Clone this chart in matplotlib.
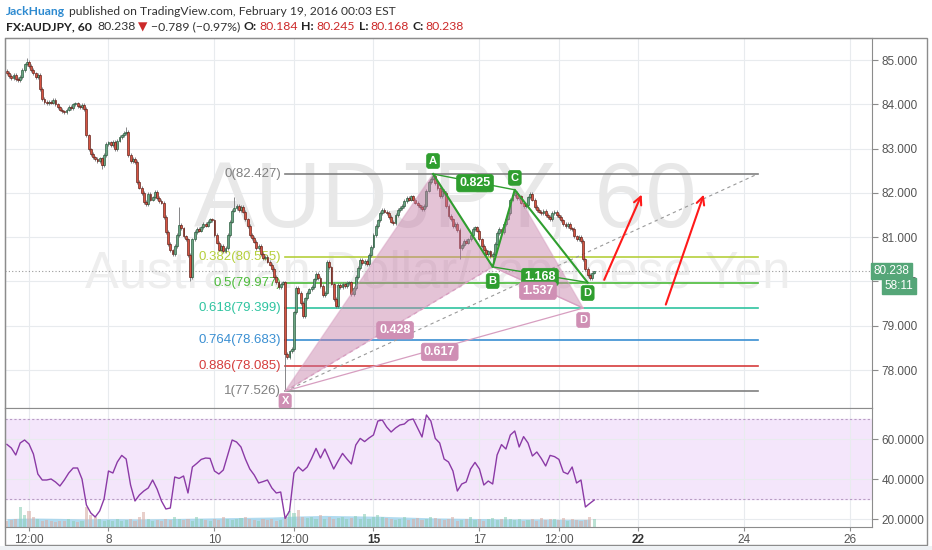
import numpy as np
import matplotlib
matplotlib.use("Agg")
import matplotlib.pyplot as plt
from matplotlib.transforms import IdentityTransform, blended_transform_factory
from matplotlib.patches import Polygon, Rectangle

# ---- data (x = trading hours counted from Feb 4 12:00, weekends skipped) ----
hours = np.arange(-10, 257)
open_first = 84.75
closes = [84.71, 84.64, 84.60, 84.66, 84.57, 84.55, 84.62, 84.78, 84.90, 84.95,
          84.86, 84.78, 84.70, 84.62, 84.66, 84.35, 84.12, 84.05, 84.02, 84.06,
          84.04, 84.10, 84.00, 83.93, 83.88, 83.84, 83.82, 83.88, 83.95, 83.92,
          84.00, 84.02, 83.96, 83.94, 83.98, 83.90, 83.30, 82.98, 82.88, 82.80,
          82.76, 82.72, 82.78, 82.62, 82.85, 83.10, 83.14, 83.08, 83.15, 82.98,
          83.18, 83.26, 83.30, 83.35, 83.38, 82.85, 82.72, 82.76, 82.70, 82.25,
          82.12, 82.00, 81.80, 81.75, 81.98, 81.85, 81.90, 82.02, 81.88, 81.82,
          81.78, 81.45, 81.12, 80.85, 80.70, 80.62, 80.80, 81.05, 81.27, 81.20,
          81.02, 80.95, 80.60, 80.10, 80.95, 81.12, 81.18, 81.15, 81.22, 81.30,
          81.26, 81.35, 81.40, 81.38, 81.05, 80.88, 80.72, 80.80, 80.68, 80.75,
          81.05, 81.35, 81.60, 81.66, 81.70, 81.62, 81.68, 81.58, 81.40, 81.25,
          81.05, 80.98, 80.90, 80.75, 80.80, 80.62, 80.52, 80.56, 80.45, 80.38,
          80.28, 80.10, 79.98, 79.88, 79.95, 79.98, 78.36, 78.30, 78.42, 78.48,
          79.30, 79.85, 79.75, 79.52, 79.22, 79.62, 79.75, 79.82, 79.88, 80.05,
          80.18, 80.08, 79.90, 79.70, 79.75, 80.45, 80.32, 79.95, 79.60, 79.45,
          79.92, 79.88, 79.95, 79.90, 79.96, 79.98, 79.72, 79.85, 80.10, 80.30,
          80.48, 80.42, 80.46, 80.40, 80.60, 80.78, 81.05, 81.25, 81.38, 81.55,
          81.62, 81.58, 81.55, 81.45, 81.35, 81.32, 81.50, 81.62, 81.66, 81.70,
          81.82, 81.88, 81.85, 81.92, 81.85, 81.78, 81.72, 81.68, 81.64, 81.70,
          82.05, 82.25, 82.32, 82.38, 82.22, 82.10, 81.92, 82.05, 82.00, 81.70,
          81.48, 81.40, 81.25, 81.30, 81.16, 80.75, 80.82, 80.92, 80.88, 80.95,
          81.05, 81.18, 81.22, 81.15, 80.95, 80.80, 80.72, 80.62, 80.68, 80.58,
          80.62, 80.85, 81.10, 81.18, 81.12, 81.30, 81.42, 81.55, 81.85, 81.95,
          82.00, 81.88, 81.92, 81.78, 81.70, 81.72, 81.90, 81.98, 81.85, 81.68,
          81.62, 81.58, 81.55, 81.60, 81.50, 81.45, 81.40, 81.55, 81.58, 81.50,
          81.46, 81.38, 81.30, 81.25, 81.30, 81.20, 81.18, 81.02, 80.95, 81.00,
          80.92, 80.50, 80.28, 80.15, 80.08, 80.184, 80.238]
spike_hi_h = [-1, 44, 68, 93, 183, 220, 256]
spike_hi_p = [85.05, 83.49, 81.68, 81.90, 82.427, 82.07, 80.245]
spike_lo_h = [33, 73, 116, 195, 210, 254, 256]
spike_lo_p = [82.55, 80.00, 77.526, 80.50, 80.33, 80.03, 80.168]

rsi_hours = np.arange(-10, 257, 2)
rsi_vals = [57.3, 55.5, 52.0, 58.0, 59.5,
            57.5, 52.5, 42.5, 39.5, 39.5, 40.0, 38.5, 36.5, 39.5, 43.0,
            45.5, 45.5, 40.0, 27.0, 23.0, 21.0, 24.0, 30.0, 44.0, 43.0,
            48.5, 51.8, 50.0, 37.0, 29.0, 32.0, 34.0, 35.5, 39.5, 35.0,
            29.0, 25.0, 25.5, 41.0, 40.3, 41.5, 33.0, 46.0, 47.8, 49.8,
            50.5, 50.3, 44.0, 42.5, 44.5, 52.0, 59.5, 58.5, 56.0, 50.0,
            45.0, 42.0, 38.0, 38.7, 39.5, 35.5, 33.0, 33.5, 20.3, 24.0,
            43.0, 46.0, 44.0, 46.0, 50.3, 55.3, 50.5, 55.0, 50.0, 45.0,
            49.0, 52.8, 50.0, 47.5, 57.0, 60.3, 58.7, 60.5, 62.0, 69.0,
            69.5, 66.0, 63.5, 65.5, 67.0, 67.5, 69.5, 70.0, 65.5, 61.0,
            72.0, 69.0, 60.3, 58.0, 50.0, 48.5, 44.0, 34.0, 37.5, 38.5,
            45.0, 48.3, 45.0, 37.0, 39.0, 37.5, 52.0, 57.2, 55.0, 62.0,
            64.0, 56.0, 61.2, 58.0, 51.5, 53.5, 50.3, 46.5, 51.8, 51.2,
            49.8, 43.5, 42.5, 46.0, 38.0, 39.5, 26.0, 27.8, 29.5]
vol_vals = [3, 3.5, 4, 10, 6,
            8, 5, 4, 3, 3.5, 3, 2.5, 3, 3, 4,
            3, 2.5, 3, 10, 6, 5, 4, 3, 3.5, 3,
            4, 3, 3.5, 4, 3, 5, 7.5, 4, 3, 3.5,
            3, 4, 3.5, 5, 4, 3.5, 4, 3, 5, 4,
            3.5, 3, 4, 3.5, 5, 4, 3.5, 4, 4.5, 5,
            4, 3.5, 3, 4, 3.5, 4, 3, 3.5, 5, 8,
            7, 8.5, 5, 4.5, 5, 4, 6, 4, 5, 4,
            4.5, 5, 4, 4.5, 5.5, 4, 6.5, 4, 5, 6,
            5, 4.5, 4, 3.5, 4, 5, 3.5, 4, 4.5, 3.5,
            4, 5, 4.5, 4, 3.5, 4, 5, 3, 3.5, 4,
            5, 3.5, 4, 3, 4, 4.5, 3.5, 4, 5, 4,
            3.5, 4, 3, 3.5, 4, 3, 4.5, 3.5, 4, 4,
            3.5, 4.5, 3, 4, 3.5, 3, 3.5, 5, 4]
volma_hours = np.arange(-10, 257, 12)
volma_vals = [4.2, 4.5, 4.3, 4.0, 4.2, 4.0, 4.2, 4.4, 4.6, 4.8, 5.0, 5.5,
              5.8, 5.6, 5.4, 5.0, 4.6, 4.4, 4.2, 4.0, 4.0, 3.8, 3.8]

tick_hours = [0, 36, 84, 120, 156, 204, 240, 276, 324, 372]
tick_labels = ["12:00", "8", "10", "12:00", "15", "17", "12:00", "22", "24", "26"]
bold_labels = ["15", "22"]

fib_ratios = ["0", "0.382", "0.5", "0.618", "0.764", "0.886", "1"]
fib_levels = [82.427, 80.555, 79.977, 79.399, 78.683, 78.085, 77.526]
fib_colors = ["#808080", "#b5cf3c", "#4cbb3a", "#2fc4a0", "#3a8fd2", "#d53c3c", "#808080"]
fib_x = [116, 330]

xabcd = {"X": (116, 77.526), "A": (183, 82.427), "B": (210, 80.33),
         "C": (220, 82.07), "D": (251, 79.40)}
abcd_d = (253, 79.977)
arrows = [((260, 79.98), (278, 82.02)), ((288, 79.42), (306, 82.02))]
last_price = 80.238

W, H = 932, 550
fig = plt.figure(figsize=(W / 100, H / 100), dpi=100)
plt.rcParams['font.family'] = ['Liberation Sans', 'DejaVu Sans']


def px_axes(l, t, r, b):
    return fig.add_axes([l / W, 1 - b / H, (r - l) / W, (b - t) / H])


ax = px_axes(5, 38, 872, 408)
ax2 = px_axes(5, 408, 872, 527)
xlim = (-10.87, 381.8)
grid_c = "#e8ebee"
spine_c = "#8c8c8c"

for a in (ax, ax2):
    a.set_xlim(*xlim)
    a.set_xticks(tick_hours)
    a.yaxis.tick_right()
    a.grid(True, color=grid_c, lw=0.8, zorder=0)
    a.set_axisbelow(True)
    for s in a.spines.values():
        s.set_color(spine_c)
    a.tick_params(axis='y', colors=spine_c, labelcolor="#555555", labelsize=8.5, length=4, pad=3)

# ---- main price panel ----
ax.set_ylim(77.144, 85.497)
ax.set_yticks([78, 79, 80, 81, 82, 83, 84, 85])
ax.set_yticklabels([f"{v:.3f}" for v in [78, 79, 80, 81, 82, 83, 84, 85]])
ax.tick_params(axis='x', length=0, labelbottom=False)

ax.text(0.5075, 0.489, "AUDJPY, 60", transform=ax.transAxes, ha='center', va='baseline',
        fontsize=66, color="#e8e8e8", zorder=0.6)
ax.text(0.4994, 0.324, "Australian Dollar/Japanese Yen", transform=ax.transAxes, ha='center',
        va='baseline', fontsize=36.5, color="#eeeeee", zorder=0.6)

# fib retracement
for r, lvl, col in zip(fib_ratios, fib_levels, fib_colors):
    ax.plot(fib_x, [lvl, lvl], color=col, lw=1.2, zorder=2)
    ax.text(fib_x[0] - 1.8, lvl, f"{r}({lvl:.3f})", color=col, fontsize=9.5,
            ha='right', va='center', zorder=2)
ax.plot(fib_x, [fib_levels[-1], fib_levels[0]], color="#999999", lw=0.8, ls=(0, (3, 3)), zorder=2)

ax.axhline(last_price, color="#9a9a9a", lw=0.8, ls=(0, (1, 2)), zorder=1.5)

# candles
c = np.array(closes)
o = np.concatenate([[open_first], c[:-1]])
hi = np.maximum(o, c) + 0.04
lo = np.minimum(o, c) - 0.04
for h, p in zip(spike_hi_h, spike_hi_p):
    hi[h + 10] = p
for h, p in zip(spike_lo_h, spike_lo_p):
    lo[h + 10] = p
up = c >= o
ax.vlines(hours, lo, hi, color="#737375", lw=0.6, zorder=3)
body = np.maximum(np.abs(c - o), 0.012)
ax.bar(hours[up], body[up], bottom=np.minimum(o, c)[up], width=0.85,
       color="#6ba583", edgecolor="#225437", lw=0.45, zorder=3.2)
ax.bar(hours[~up], body[~up], bottom=np.minimum(o, c)[~up], width=0.85,
       color="#d75442", edgecolor="#5b1a13", lw=0.45, zorder=3.2)

# XABCD pattern (pink) and ABCD (green)
X, A, B, C, D = (xabcd[k] for k in "XABCD")
pink_fc = "#c57ba6"
pink_ec = "#d79ec0"
ax.add_patch(Polygon([X, A, B], closed=True, fc=pink_fc, alpha=0.45, ec=pink_ec, lw=1, zorder=4))
ax.add_patch(Polygon([B, C, D], closed=True, fc=pink_fc, alpha=0.45, ec=pink_ec, lw=1, zorder=4))
ax.plot([X[0], B[0]], [X[1], B[1]], color=pink_ec, lw=0.9, ls=(0, (3, 3)), zorder=4.1)
ax.plot([X[0], D[0]], [X[1], D[1]], color=pink_ec, lw=0.9, zorder=4.1)
ax.plot([B[0], D[0]], [B[1], D[1]], color=pink_ec, lw=0.9, zorder=4.1)

green = "#2f9e2f"
ax.plot([A[0], B[0], C[0], abcd_d[0]], [A[1], B[1], C[1], abcd_d[1]], color=green, lw=1.5, zorder=5)
ax.plot([A[0], C[0]], [A[1], C[1]], color=green, lw=1.0, zorder=5)
ax.plot([B[0], abcd_d[0]], [B[1], abcd_d[1]], color=green, lw=1.0, zorder=5)


def tag(x, y, s, fc, size=8):
    ax.text(x, y, s, color="white", fontsize=size, fontweight='bold', ha='center', va='center',
            zorder=6, bbox=dict(boxstyle="round,pad=0.22", fc=fc, ec=fc, lw=0.5))


pink_box = "#cf8fb4"
tag(183, 82.72, "A", green)
tag(210, 80.01, "B", green)
tag(220, 82.34, "C", green)
tag(253, 79.74, "D", green)
tag(116, 77.30, "X", pink_box)
tag(251, 79.13, "D", pink_box)
tag(202, 82.22, "0.825", green, 9)
tag(231.4, 80.10, "1.168", green, 9)
tag(230.5, 79.79, "1.537", pink_box, 9)
tag(165.8, 78.90, "0.428", pink_box, 9)
tag(186, 78.41, "0.617", pink_box, 9)

for start, end in arrows:
    ax.annotate("", xy=end, xytext=start, zorder=6,
                arrowprops=dict(arrowstyle="->", color="#ff1a1a", lw=1.5, mutation_scale=14))

# price tags on the scale
bt = blended_transform_factory(ax.transAxes, ax.transData)
ax.text(1.002, last_price, "80.238", transform=bt, color="white", fontsize=8.5, ha='left',
        va='center', zorder=7, clip_on=False,
        bbox=dict(boxstyle="square,pad=0.2", fc="#55a678", ec="#55a678"))
ax.text(1.0145, 79.90, "58:11", transform=bt, color="white", fontsize=8.5, ha='left',
        va='center', zorder=7, clip_on=False,
        bbox=dict(boxstyle="square,pad=0.2", fc="#55a678", ec="#55a678"))

# ---- RSI panel ----
ax2.set_ylim(16, 75.5)
ax2.set_yticks([20, 40, 60])
ax2.set_yticklabels(["20.0000", "40.0000", "60.0000"])
ax2.axhspan(30, 70, color="#f4e6fb", zorder=0.3)
for lv in (30, 70):
    ax2.axhline(lv, color="#b89cc4", lw=0.8, ls=(0, (2, 2)), zorder=0.8)
ax2.fill_between(volma_hours, 16, 16 + np.array(volma_vals), color="#9ed3ec", alpha=0.8, lw=0, zorder=1)
vh = np.array(vol_vals)
vup = np.array([closes[h + 10] >= (closes[h + 9] if h > -10 else open_first) for h in rsi_hours])
ax2.bar(rsi_hours[vup], vh[vup], bottom=16, width=1.4, color="#8fcfb8", alpha=0.6, zorder=1.2)
ax2.bar(rsi_hours[~vup], vh[~vup], bottom=16, width=1.4, color="#d9b0a8", alpha=0.6, zorder=1.2)
ax2.plot(rsi_hours, rsi_vals, color="#8b3aa6", lw=1.0, zorder=3)
ax2.set_xticklabels(tick_labels)
ax2.tick_params(axis='x', colors=spine_c, labelcolor="#555555", labelsize=8.5, length=3, pad=2)
for lab in ax2.get_xticklabels():
    if lab.get_text() in bold_labels:
        lab.set_fontweight('bold')
        lab.set_color("#333333")

# outer frame
fig.add_artist(Rectangle((5 / W, 1 - 545 / H), 922 / W, 507 / H, transform=fig.transFigure,
                         fill=False, ec=spine_c, lw=1))
fig.add_artist(Rectangle((0, 0), 1, 4.5 / H, transform=fig.transFigure, fc="#eef1f4", ec="none"))

# ---- header ----
hdr_font = ['Lato', 'DejaVu Sans']
renderer = fig.canvas.get_renderer()


def run_text(pieces, x, y, size):
    for s, col, wt, gap in pieces:
        t = fig.text(x, y, s, transform=IdentityTransform(), color=col, fontsize=size,
                     fontweight=wt, family=hdr_font, va='baseline')
        x += t.get_window_extent(renderer).width + gap


run_text([("JackHuang", "#2d8ad0", 'bold', 4),
          ("published on TradingView.com, February 19, 2016 00:03 EST", "#333333", 'normal', 0)],
         6, H - 15, 8.7)
red = "#cc2a2a"
run_text([("FX:AUDJPY, 60", "#222222", 'bold', 5), ("80.238", "#333333", 'normal', 3),
          ("▼", red, 'normal', 3), ("−0.789 (−0.97%)", "#333333", 'normal', 4),
          ("O:", "#222222", 'bold', 2), ("80.184", red, 'normal', 4),
          ("H:", "#222222", 'bold', 2), ("80.245", red, 'normal', 4),
          ("L:", "#222222", 'bold', 2), ("80.168", red, 'normal', 4),
          ("C:", "#222222", 'bold', 2), ("80.238", red, 'normal', 0)],
         6, H - 30.5, 8.8)

fig.savefig("out.png", dpi=100)
